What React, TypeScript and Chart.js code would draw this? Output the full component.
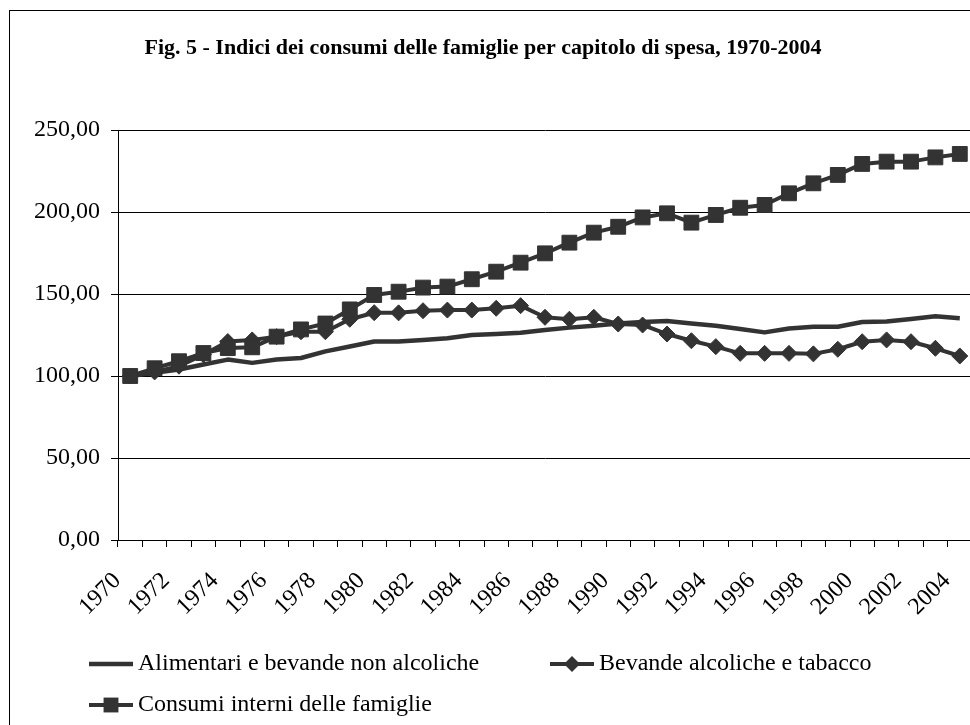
import React, { useEffect, useRef } from "react";
import { Chart, registerables } from "chart.js";

Chart.register(...registerables);

const years: string[] = [
  "1970", "1971", "1972", "1973", "1974", "1975", "1976", "1977", "1978", "1979",
  "1980", "1981", "1982", "1983", "1984", "1985", "1986", "1987", "1988", "1989",
  "1990", "1991", "1992", "1993", "1994", "1995", "1996", "1997", "1998", "1999",
  "2000", "2001", "2002", "2003", "2004",
];

const alimentari: number[] = [
  100, 102, 104, 107, 110, 108, 110, 111, 115, 118,
  121, 121, 122, 123, 125, 125.6, 126.4, 128, 129.5, 130.7,
  132, 133, 133.5, 132, 130.7, 128.7, 126.6, 129, 130, 130,
  132.9, 133.3, 134.8, 136.5, 135.2,
];

const bevande: number[] = [
  100, 102.5, 106, 113, 121, 122, 124, 127, 127, 134.6,
  138.6, 138.5, 139.8, 140.2, 140.2, 141.3, 142.9, 135.8, 134.6, 135.8,
  131.7, 131.1, 125.6, 121.5, 117.9, 113.8, 113.8, 113.8, 113.5, 116.3,
  120.9, 122, 120.9, 116.9, 112.2,
];

const consumi: number[] = [
  100, 104.7, 109, 114, 117, 117.5, 124, 128.4, 132, 140.6,
  149.4, 151.4, 153.9, 154.5, 159, 163.6, 169.1, 174.8, 181.3, 187.4,
  191, 196.7, 199.2, 193.5, 198.2, 202.6, 204.3, 211.4, 217.5, 222.6,
  229.3, 230.7, 230.7, 233.3, 235.4,
];

const seriesLabels: string[] = [
  "Alimentari e bevande non alcoliche",
  "Bevande alcoliche e tabacco",
  "Consumi interni delle famiglie",
];

const titleText = "Fig. 5 - Indici dei consumi delle famiglie per capitolo di spesa, 1970-2004";

const INK = "#333333";
const FONT = '"Liberation Serif", "Times New Roman", serif';

const decorPlugin = {
  id: "decor",
  beforeDraw(chart: any) {
    const ctx = chart.ctx;
    ctx.save();
    ctx.fillStyle = "#ffffff";
    ctx.fillRect(0, 0, chart.width, chart.height);
    ctx.restore();
  },
  afterDraw(chart: any) {
    const ctx = chart.ctx;
    ctx.save();
    // outer frame
    ctx.strokeStyle = "#000000";
    ctx.lineWidth = 1;
    ctx.strokeRect(9.5, 10.5, chart.width + 20, chart.height + 20);
    // title
    ctx.fillStyle = "#000000";
    ctx.font = "bold 22px " + FONT;
    ctx.textAlign = "center";
    ctx.textBaseline = "middle";
    ctx.fillText(titleText, 483, 48);
    // legend
    const items = [
      { x: 89, y: 664 },
      { x: 550, y: 664 },
      { x: 89, y: 705 },
    ];
    chart.data.datasets.forEach((ds: any, i: number) => {
      const it = items[i];
      const len = 44;
      ctx.strokeStyle = INK;
      ctx.lineWidth = ds.borderWidth;
      ctx.beginPath();
      ctx.moveTo(it.x, it.y);
      ctx.lineTo(it.x + len, it.y);
      ctx.stroke();
      const cx = it.x + len / 2;
      ctx.fillStyle = INK;
      if (ds.pointStyle === "rect" && ds.pointRadius > 0) {
        const s = ds.pointRadius * Math.SQRT1_2;
        ctx.fillRect(cx - s, it.y - s, 2 * s, 2 * s);
      } else if (ds.pointStyle === "rectRot" && ds.pointRadius > 0) {
        const r = ds.pointRadius;
        ctx.beginPath();
        ctx.moveTo(cx - r, it.y);
        ctx.lineTo(cx, it.y - r);
        ctx.lineTo(cx + r, it.y);
        ctx.lineTo(cx, it.y + r);
        ctx.closePath();
        ctx.fill();
      }
      ctx.fillStyle = "#000000";
      ctx.font = "24px " + FONT;
      ctx.textAlign = "left";
      ctx.textBaseline = "middle";
      ctx.fillText(ds.label, it.x + len + 5, it.y);
    });
    ctx.restore();
  },
};

export default function App() {
  const ref = useRef<HTMLCanvasElement | null>(null);

  useEffect(() => {
    if (!ref.current) return;
    const chart = new Chart(ref.current, {
      type: "line",
      data: {
        labels: years,
        datasets: [
          {
            label: seriesLabels[0],
            data: alimentari,
            borderColor: INK,
            backgroundColor: INK,
            borderWidth: 4.5,
            pointRadius: 0,
            pointHoverRadius: 0,
            pointStyle: "line",
            borderJoinStyle: "round",
            order: 3,
          },
          {
            label: seriesLabels[1],
            data: bevande,
            borderColor: INK,
            backgroundColor: INK,
            borderWidth: 4,
            pointRadius: 8,
            pointStyle: "rectRot",
            pointBackgroundColor: INK,
            pointBorderColor: INK,
            pointBorderWidth: 1,
            borderJoinStyle: "round",
            order: 2,
          },
          {
            label: seriesLabels[2],
            data: consumi,
            borderColor: INK,
            backgroundColor: INK,
            borderWidth: 4,
            pointRadius: 10.5,
            pointStyle: "rect",
            pointBackgroundColor: INK,
            pointBorderColor: INK,
            pointBorderWidth: 1,
            borderJoinStyle: "round",
            order: 1,
          },
        ],
      },
      options: {
        animation: false,
        responsive: false,
        devicePixelRatio: 1,
        layout: { padding: { top: 130, right: 18, bottom: 0, left: 0 } },
        plugins: {
          legend: { display: false },
          title: { display: false },
          tooltip: { enabled: false },
        },
        scales: {
          x: {
            type: "category",
            offset: true,
            grid: {
              offset: true,
              drawOnChartArea: false,
              drawTicks: true,
              tickLength: 7,
              color: "#000000",
              tickColor: "#000000",
            },
            border: { color: "#000000", width: 1 },
            ticks: {
              autoSkip: false,
              minRotation: 45,
              maxRotation: 45,
              padding: 20,
              labelOffset: -13,
              color: "#000000",
              font: { family: FONT, size: 24 },
              callback: (_v: any, i: number) => (i % 2 === 0 ? years[i] : ""),
            },
            afterFit: (s: any) => {
              s.height = 185;
              s.paddingRight = 0;
              s.paddingLeft = 0;
            },
          },
          y: {
            min: 0,
            max: 250,
            ticks: {
              stepSize: 50,
              padding: 11,
              color: "#000000",
              font: { family: FONT, size: 24 },
              callback: (v: any) => Number(v).toFixed(2).replace(".", ","),
            },
            grid: {
              color: "#000000",
              tickColor: "#000000",
              tickLength: 7,
              drawTicks: true,
            },
            border: { color: "#000000", width: 1 },
            afterFit: (s: any) => {
              s.width = 118;
            },
          },
        },
      },
      plugins: [decorPlugin],
    });
    return () => chart.destroy();
  }, []);

  return (
    <div
      style={{
        position: "absolute",
        left: 0,
        top: 0,
        width: 970,
        height: 725,
        overflow: "hidden",
        background: "#ffffff",
      }}
    >
      <canvas ref={ref} width={990} height={725} style={{ display: "block" }} />
    </div>
  );
}
